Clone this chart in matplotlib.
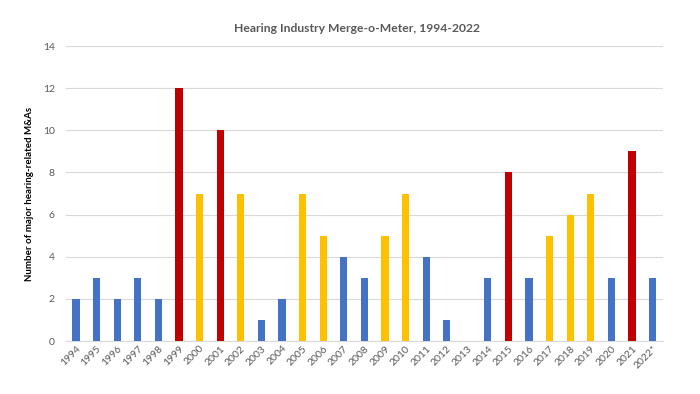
import matplotlib
matplotlib.use("Agg")
import matplotlib.pyplot as plt

years = ["1994", "1995", "1996", "1997", "1998", "1999", "2000", "2001", "2002", "2003",
         "2004", "2005", "2006", "2007", "2008", "2009", "2010", "2011", "2012", "2013",
         "2014", "2015", "2016", "2017", "2018", "2019", "2020", "2021", "2022*"]
values = [2, 3, 2, 3, 2, 12, 7, 10, 7, 1,
          2, 7, 5, 4, 3, 5, 7, 4, 1, 0,
          3, 8, 3, 5, 6, 7, 3, 9, 3]
groups = ["b", "b", "b", "b", "b", "r", "y", "r", "y", "b",
          "b", "y", "y", "b", "b", "y", "y", "b", "b", "b",
          "b", "r", "b", "y", "y", "y", "b", "r", "b"]
palette = {"b": "#4472C4", "r": "#C00000", "y": "#FFC000"}

plt.rcParams['font.family'] = ['Lato', 'DejaVu Sans']

fig = plt.figure(figsize=(7, 3.94), dpi=100)
ax = fig.add_axes([0.094, 0.1345, 0.853, 0.7485])

x = list(range(len(years)))
ax.bar(x, values, width=0.35, color=[palette[g] for g in groups], zorder=3)

ax.set_ylim(0, 14)
ax.set_yticks(range(0, 15, 2))
ax.set_xlim(-0.5, len(years) - 0.5)
ax.set_xticks(x)
ax.set_xticklabels(years, rotation=45, ha='right', rotation_mode='anchor', fontsize=7.5, color='#595959')
ax.tick_params(axis='y', labelsize=7.5, labelcolor='#595959', length=0, pad=8)
ax.tick_params(axis='x', length=0, pad=2)
ax.grid(axis='y', color='#D9D9D9', linewidth=0.8, zorder=0)
for s in ['top', 'right', 'left']:
    ax.spines[s].set_visible(False)
ax.spines['bottom'].set_color('#D9D9D9')

ax.set_ylabel("Number of major hearing-related M&As", fontsize=7, fontweight='bold', color='black', labelpad=6)
fig.text(357 / 700, 1 - 28 / 394, "Hearing Industry Merge-o-Meter, 1994-2022",
         fontsize=8.7, fontweight='bold', color='#595959', ha='center', va='center')

fig.savefig("out.png", dpi=100)
